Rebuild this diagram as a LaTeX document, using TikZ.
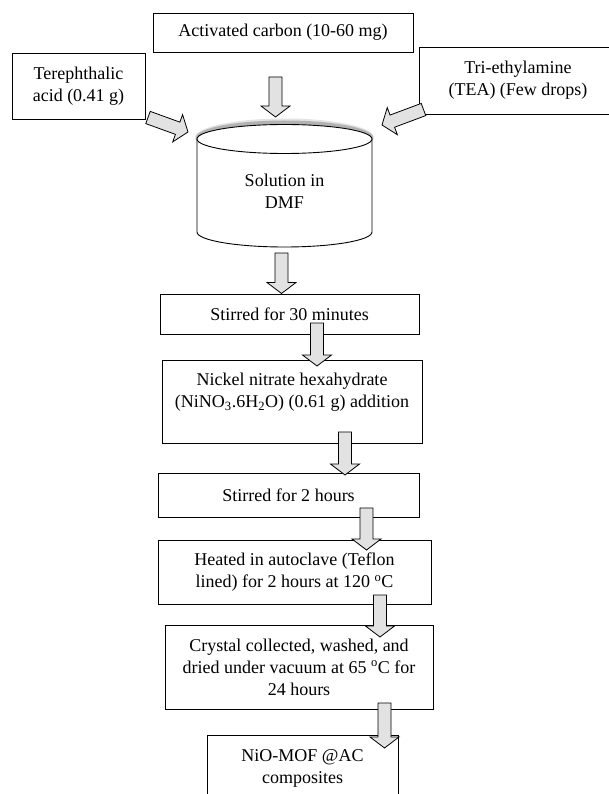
\documentclass[tikz,border=0pt]{standalone}
\usepackage{fontspec}
\setmainfont{Liberation Serif}
\usetikzlibrary{calc}
\definecolor{arrowfill}{HTML}{E2E2E2}
\newcommand\flowarrow[2]{%
  \coordinate (bA) at (#1);
  \coordinate (bB) at (#2);
  \coordinate (bC) at ($(bB)!11pt!(bA)$);
  \draw[blockarrowstyle] ($(bA)!6.5pt!90:(bB)$) -- ($(bC)!6.5pt!90:(bB)$) -- ($(bC)!14.5pt!90:(bB)$) -- (bB) -- ($(bC)!14.5pt!-90:(bB)$) -- ($(bC)!6.5pt!-90:(bB)$) -- ($(bA)!6.5pt!-90:(bB)$) -- cycle;}
\begin{document}
\begin{tikzpicture}[x=1pt, y=-1pt,
  box/.style={draw=black, line width=0.9pt, fill=white, inner sep=0pt, align=center, font=\fontsize{18}{22}\selectfont},
  plaintext/.style={inner sep=0pt, align=center, font=\fontsize{18}{22}\selectfont},
  blockarrowstyle/.style={draw=black, line width=0.8pt, fill=arrowfill, line join=miter}]
\useasboundingbox (0,0) rectangle (609,794);

% top inputs
\node[box, minimum width=260pt, minimum height=39pt] (ac) at (283,32.5) {Activated carbon (10-60 mg)};
\node[box, minimum width=133pt, minimum height=66pt] (ta) at (78.5,86) {Terephthalic\\acid (0.41 g)};
\node[box, minimum width=198pt, minimum height=67pt] (tea) at (518,80.5) {Tri-ethylamine\\(TEA) (Few drops)};

% cylinder
\fill[gray!22] (284.5,137.5) ellipse [x radius=89.5, y radius=19];
\fill[gray!60] (284.5,137.5) ellipse [x radius=88.5, y radius=17];
\draw[line width=0.9pt, fill=white] (197,139) -- (197,232) .. controls (197,240.3) and (236.2,247) .. (284.5,247) .. controls (332.8,247) and (372,240.3) .. (372,232) -- (372,139) -- cycle;
\draw[line width=0.9pt, fill=white] (284.5,139) ellipse [x radius=87.5, y radius=14.5];
\node[plaintext] (cyl) at (284.5,191) {Solution in\\DMF};

% process steps
\node[box, minimum width=259pt, minimum height=40pt] (s30) at (289.5,314) {Stirred for 30 minutes};
\node[box, minimum width=260pt, minimum height=83pt] (ni) at (292,401.5) {Nickel nitrate hexahydrate\\(NiNO\textsubscript{3}.6H\textsubscript{2}O) (0.61 g) addition\\\mbox{}};
\node[box, minimum width=261pt, minimum height=44pt] (s2) at (288.5,495) {Stirred for 2 hours};
\node[box, minimum width=273pt, minimum height=64pt] (heat) at (294.5,572) {Heated in autoclave (Teflon\\lined) for 2 hours at 120 \textsuperscript{o}C};
\node[box, minimum width=268pt, minimum height=84pt] (crys) at (299,667) {Crystal collected, washed, and\\dried under vacuum at 65 \textsuperscript{o}C for\\24 hours};
\node[box, minimum width=191pt, minimum height=66pt] (nio) at (302.5,768) {NiO-MOF @AC\\composites};

% connector end points
\coordinate (acT) at (275.5,77);   \coordinate (cylA) at (275.5,117);
\coordinate (taT) at (148,117.5);  \coordinate (cylB) at (188,132);
\coordinate (teaT) at (423.5,109.5); \coordinate (cylC) at (382,125);
\coordinate (cylT) at (281.5,253); \coordinate (s30H) at (281.5,293.5);
\coordinate (s30T) at (317,323);   \coordinate (niH) at (317,366);
\coordinate (niT) at (345,432);    \coordinate (s2H) at (345,475);
\coordinate (s2T) at (366.5,508);  \coordinate (heatH) at (366.5,550);
\coordinate (heatT) at (380,595);  \coordinate (crysH) at (380,637);
\coordinate (crysT) at (384.5,703); \coordinate (nioH) at (384.5,748);

% block arrows
\flowarrow{acT}{cylA}
\flowarrow{taT}{cylB}
\flowarrow{teaT}{cylC}
\flowarrow{cylT}{s30H}
\flowarrow{s30T}{niH}
\flowarrow{niT}{s2H}
\flowarrow{s2T}{heatH}
\flowarrow{heatT}{crysH}
\flowarrow{crysT}{nioH}
\end{tikzpicture}
\end{document}
